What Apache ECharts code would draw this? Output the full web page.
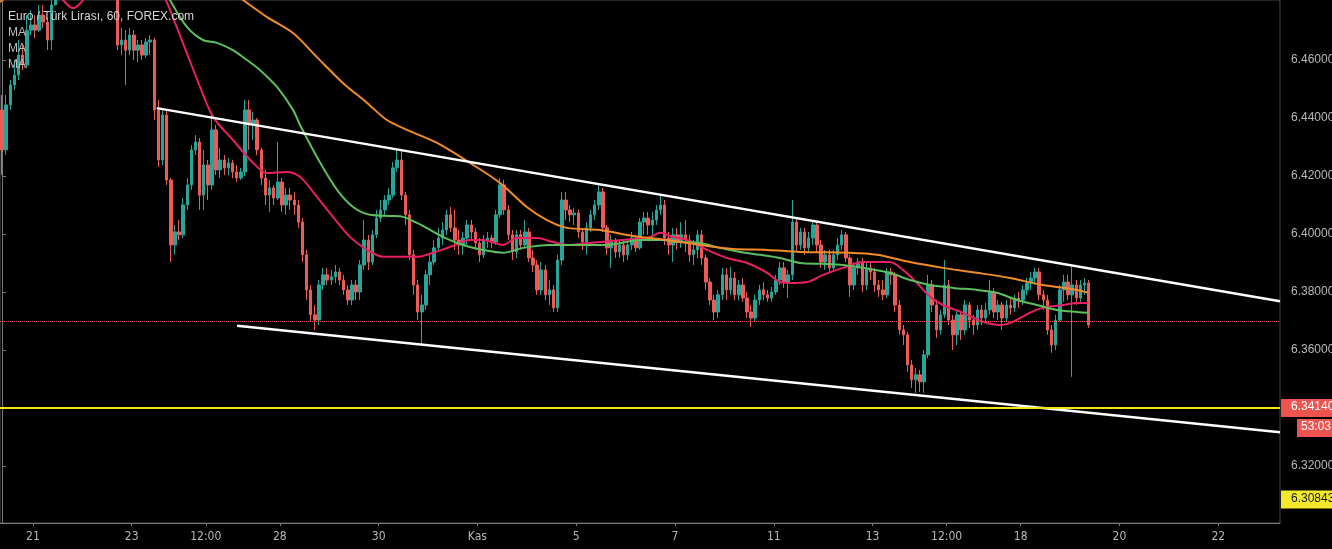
<!DOCTYPE html>
<html><head><meta charset="utf-8">
<script src="https://cdn.jsdelivr.net/npm/echarts@6/dist/echarts.min.js"></script>
<style>html,body{margin:0;padding:0;background:#000;}#c{width:1332px;height:549px;}</style>
</head><body><div id="c"></div>
<script>
// 2-hour candles, index 0 = 18 Eki 08:00 (indices 13-27 lie above the visible range)
const firstOpen = 6.4428;
const closes = [
6.4290,6.4445,6.4514,6.4548,6.4617,6.4583,6.4703,6.4721,6.4703,6.4755,
6.4731,6.4669,6.4790,6.4870,6.4905,6.4885,6.4920,6.4950,6.4930,6.4900,
6.4870,6.4860,6.4890,6.4920,6.4935,6.4910,6.4880,6.4850,6.4652,6.4669,
6.4634,6.4686,6.4634,6.4652,6.4617,6.4662,6.4669,6.4428,6.4255,6.4410,
6.4186,6.3962,6.4007,6.3997,6.4100,6.4169,6.4290,6.4317,6.4134,6.4238,
6.4169,6.4359,6.4221,6.4255,6.4228,6.4245,6.4214,6.4193,6.4214,6.4428,
6.4376,6.4393,6.4290,6.4193,6.4134,6.4159,6.4124,6.4179,6.4100,6.4134,
6.4117,6.4100,6.4041,6.3928,6.3807,6.3721,6.3703,6.3824,6.3859,6.3841,
6.3852,6.3869,6.3841,6.3807,6.3772,6.3824,6.3800,6.3893,6.3979,6.3903,
6.3997,6.4055,6.4083,6.4117,6.4134,6.4228,6.4255,6.4134,6.4066,6.3928,
6.3824,6.3731,6.3755,6.3859,6.3903,6.3952,6.3986,6.4014,6.4066,6.4021,
6.3979,6.3962,6.3986,6.4031,6.4007,6.3969,6.3928,6.3979,6.3986,6.3972,
6.4066,6.4169,6.4083,6.3997,6.3938,6.3997,6.3962,6.4007,6.3917,6.3893,
6.3807,6.3876,6.3790,6.3807,6.3745,6.3910,6.4117,6.4083,6.4066,6.4072,
6.4007,6.3972,6.4021,6.4066,6.4100,6.4145,6.4021,6.3952,6.3979,6.3938,
6.3962,6.3928,6.3962,6.3986,6.3952,6.4041,6.4055,6.4031,6.4048,6.4083,
6.4100,6.3986,6.3962,6.3997,6.3972,6.3997,6.3979,6.3928,6.3945,6.3997,
6.3917,6.3834,6.3772,6.3731,6.3790,6.3859,6.3807,6.3848,6.3790,6.3824,
6.3779,6.3731,6.3710,6.3772,6.3807,6.3790,6.3779,6.3800,6.3841,6.3883,
6.3834,6.3859,6.4041,6.3962,6.4007,6.3952,6.3986,6.4031,6.3962,6.3903,
6.3928,6.3883,6.3928,6.3962,6.3997,6.3917,6.3824,6.3883,6.3903,6.3824,
6.3883,6.3869,6.3824,6.3807,6.3790,6.3869,6.3859,6.3755,6.3669,6.3652,
6.3548,6.3497,6.3514,6.3490,6.3583,6.3824,6.3755,6.3669,6.3721,6.3824,
6.3703,6.3652,6.3721,6.3669,6.3755,6.3703,6.3686,6.3738,6.3710,6.3738,
6.3800,6.3731,6.3755,6.3710,6.3755,6.3745,6.3779,6.3772,6.3807,6.3831,
6.3848,6.3869,6.3790,6.3772,6.3669,6.3617,6.3703,6.3807,6.3834,6.3790,
6.3824,6.3779,6.3824,6.3831,6.3686
];
const highs = [
6.4479,6.4479,6.4531,6.4600,6.4669,6.4652,6.4755,6.4772,6.4755,6.4790,
6.4790,6.4745,6.4841,6.4900,6.4930,6.4925,6.4950,6.4975,6.4970,6.4945,
6.4910,6.4885,6.4910,6.4945,6.4960,6.4950,6.4920,6.4890,6.4870,6.4710,
6.4703,6.4710,6.4703,6.4669,6.4669,6.4676,6.4686,6.4676,6.4462,6.4434,
6.4428,6.4193,6.4031,6.4048,6.4124,6.4193,6.4307,6.4341,6.4331,6.4290,
6.4255,6.4410,6.4376,6.4297,6.4272,6.4262,6.4255,6.4238,6.4228,6.4462,
6.4462,6.4421,6.4400,6.4297,6.4221,6.4186,6.4169,6.4317,6.4193,6.4159,
6.4159,6.4145,6.4117,6.4055,6.3945,6.3824,6.3755,6.3841,6.3883,6.3883,
6.3876,6.3893,6.3883,6.3859,6.3824,6.3841,6.3841,6.3910,6.4048,6.3997,
6.4014,6.4083,6.4117,6.4134,6.4159,6.4248,6.4290,6.4290,6.4145,6.4083,
6.3945,6.3841,6.3790,6.3876,6.3928,6.3979,6.4021,6.4041,6.4083,6.4093,
6.4083,6.4014,6.4007,6.4048,6.4048,6.4021,6.3986,6.3997,6.4007,6.3997,
6.4083,6.4193,6.4186,6.4100,6.4014,6.4014,6.4014,6.4048,6.4021,6.3945,
6.3910,6.3903,6.3893,6.3841,6.3824,6.3928,6.4145,6.4145,6.4100,6.4090,
6.4083,6.4021,6.4041,6.4083,6.4117,6.4169,6.4159,6.4031,6.3997,6.3986,
6.3979,6.3979,6.3972,6.4007,6.3997,6.4055,6.4076,6.4076,6.4076,6.4100,
6.4134,6.4117,6.4007,6.4021,6.4021,6.4041,6.4048,6.3997,6.3979,6.4014,
6.4014,6.3928,6.3848,6.3790,6.3807,6.3883,6.3883,6.3886,6.3869,6.3841,
6.3848,6.3800,6.3755,6.3790,6.3824,6.3834,6.3807,6.3817,6.3859,6.3903,
6.3903,6.3876,6.4117,6.4055,6.4021,6.4021,6.4007,6.4048,6.4041,6.3979,
6.3945,6.3945,6.3945,6.3986,6.4014,6.4007,6.3928,6.3903,6.3917,6.3917,
6.3903,6.3903,6.3883,6.3841,6.3841,6.3883,6.3883,6.3869,6.3772,6.3686,
6.3662,6.3566,6.3538,6.3531,6.3600,6.3859,6.3841,6.3772,6.3738,6.3910,
6.3841,6.3721,6.3738,6.3731,6.3772,6.3766,6.3721,6.3755,6.3755,6.3762,
6.3841,6.3814,6.3772,6.3766,6.3772,6.3779,6.3790,6.3800,6.3824,6.3848,
6.3869,6.3883,6.3883,6.3807,6.3790,6.3686,6.3721,6.3824,6.3859,6.3859,
6.3886,6.3841,6.3841,6.3848,6.3841
];
const lows = [
6.4203,6.4272,6.4428,6.4497,6.4531,6.4565,6.4572,6.4686,6.4676,6.4697,
6.4710,6.4634,6.4634,6.4788,6.4860,6.4870,6.4880,6.4910,6.4915,6.4890,
6.4850,6.4830,6.4845,6.4880,6.4905,6.4895,6.4860,6.4825,6.4634,6.4617,
6.4514,6.4617,6.4600,6.4593,6.4600,6.4607,6.4617,6.4393,6.4231,6.4238,
6.4169,6.3903,6.3928,6.3979,6.3986,6.4083,6.4152,6.4272,6.4083,6.4083,
6.4117,6.4152,6.4203,6.4193,6.4203,6.4203,6.4193,6.4179,6.4186,6.4200,
6.4290,6.4324,6.4272,6.4169,6.4100,6.4076,6.4100,6.4117,6.4076,6.4066,
6.4083,6.4066,6.4021,6.3903,6.3772,6.3697,6.3669,6.3686,6.3807,6.3824,
6.3824,6.3831,6.3824,6.3790,6.3755,6.3755,6.3772,6.3772,6.3876,6.3876,
6.3893,6.3986,6.4041,6.4066,6.4100,6.4124,6.4214,6.4117,6.4031,6.3910,
6.3790,6.3703,6.3617,6.3738,6.3824,6.3893,6.3938,6.3962,6.3997,6.4007,
6.3945,6.3928,6.3928,6.3962,6.3979,6.3945,6.3903,6.3917,6.3952,6.3952,
6.3962,6.4055,6.4066,6.3979,6.3910,6.3917,6.3945,6.3952,6.3903,6.3869,
6.3790,6.3790,6.3772,6.3755,6.3731,6.3731,6.3893,6.4048,6.4041,6.4031,
6.3986,6.3945,6.3928,6.4007,6.4048,6.4083,6.4007,6.3928,6.3883,6.3917,
6.3917,6.3903,6.3910,6.3945,6.3938,6.3945,6.3997,6.3997,6.3979,6.4031,
6.4066,6.3962,6.3928,6.3903,6.3945,6.3952,6.3938,6.3903,6.3893,6.3917,
6.3893,6.3807,6.3755,6.3703,6.3710,6.3772,6.3772,6.3790,6.3772,6.3772,
6.3766,6.3710,6.3679,6.3697,6.3755,6.3772,6.3766,6.3766,6.3790,6.3824,
6.3814,6.3779,6.3841,6.3938,6.3945,6.3928,6.3938,6.3962,6.3938,6.3883,
6.3876,6.3869,6.3869,6.3910,6.3945,6.3903,6.3783,6.3807,6.3859,6.3800,
6.3807,6.3841,6.3800,6.3783,6.3772,6.3779,6.3824,6.3731,6.3652,6.3617,
6.3524,6.3469,6.3452,6.3455,6.3452,6.3572,6.3731,6.3641,6.3652,6.3710,
6.3686,6.3600,6.3617,6.3634,6.3652,6.3676,6.3652,6.3669,6.3686,6.3697,
6.3721,6.3710,6.3703,6.3669,6.3697,6.3721,6.3731,6.3745,6.3755,6.3790,
6.3807,6.3824,6.3772,6.3738,6.3652,6.3590,6.3600,6.3697,6.3766,6.3772,
6.3507,6.3755,6.3766,6.3790,6.3676
];

const slotCount = 311;
const dayTickPositions = [7.5,31.5,49.5,67.5,91.5,115.5,139.5,163.5,187.5,211.5,229.5,247.5,271.5,295.5];
const dayTickLabels = ['21','23','12:00','28','30','Kas','5','7','11','13','12:00','18','20','22'];
const priceTicks = [6.30,6.32,6.34,6.36,6.38,6.40,6.42,6.44,6.46];

const maFast = [[9.2,6.4893],[14.8,6.4807],[17.2,6.4779],[19.7,6.4807],[23.8,6.4893],[31.1,6.4962],[37.2,6.4876],[39.8,6.4807],[41.5,6.4748],[44.9,6.4624],[48.1,6.4507],[51.3,6.4403],[56.1,6.4324],[61.0,6.4245],[64.4,6.4210],[69.2,6.4214],[72.4,6.4197],[76.5,6.4128],[80.4,6.4059],[84.5,6.3990],[88.7,6.3945],[92.6,6.3921],[100.8,6.3921],[104.7,6.3935],[108.8,6.3955],[113.7,6.3979],[116.9,6.3979],[121.7,6.3962],[125.1,6.3986],[130.0,6.3986],[133.9,6.3972],[137.3,6.3962],[142.8,6.3969],[150.9,6.3979],[157.4,6.3990],[159.9,6.4004],[163.0,6.3990],[166.4,6.3979],[171.3,6.3945],[176.1,6.3917],[181.0,6.3900],[185.9,6.3866],[189.0,6.3834],[192.2,6.3831],[195.6,6.3834],[199.5,6.3859],[204.3,6.3883],[209.2,6.3903],[215.7,6.3903],[218.9,6.3876],[222.3,6.3831],[225.5,6.3783],[228.6,6.3755],[233.5,6.3728],[238.3,6.3697],[242.5,6.3686],[245.6,6.3697],[249.7,6.3728],[252.9,6.3745],[257.8,6.3755],[261.2,6.3762],[264,6.3762]];
const maMid = [[38.4,6.4876],[40.8,6.4807],[44.9,6.4714],[48.8,6.4669],[52.2,6.4659],[56.1,6.4634],[59.5,6.4600],[62.7,6.4565],[66.8,6.4507],[70.7,6.4428],[72.4,6.4376],[77.2,6.4248],[81.4,6.4152],[85.3,6.4093],[89.4,6.4066],[94.3,6.4062],[97.4,6.4059],[100.8,6.4038],[104.0,6.4014],[107.1,6.3990],[112.0,6.3962],[116.9,6.3945],[121.7,6.3935],[126.6,6.3952],[133.1,6.3962],[138.7,6.3962],[147.0,6.3962],[155.0,6.3979],[159.9,6.3979],[164.7,6.3972],[169.6,6.3969],[174.4,6.3952],[179.3,6.3938],[184.1,6.3928],[189.0,6.3917],[193.9,6.3900],[198.7,6.3897],[204.3,6.3893],[209.2,6.3883],[215.7,6.3866],[220.6,6.3841],[225.5,6.3824],[231.0,6.3814],[236.9,6.3807],[241.7,6.3797],[246.6,6.3772],[251.4,6.3755],[256.3,6.3738],[261.2,6.3731],[264,6.3728]];
const maSlow = [[-0.5,6.4800],[2.4,6.4828],[30,6.5014],[55.4,6.4834],[58.5,6.4807],[64.4,6.4748],[70.7,6.4693],[76.5,6.4610],[82.8,6.4521],[88.7,6.4452],[93.5,6.4393],[98.4,6.4359],[105.7,6.4314],[113.7,6.4245],[121.0,6.4176],[127.5,6.4093],[132.4,6.4048],[137.3,6.4021],[145.3,6.4014],[153.3,6.3993],[161.6,6.3979],[169.6,6.3962],[177.6,6.3948],[185.9,6.3945],[193.9,6.3938],[206.0,6.3935],[212.6,6.3928],[220.6,6.3903],[228.6,6.3883],[236.9,6.3866],[244.9,6.3848],[252.9,6.3824],[261.2,6.3807],[264,6.3797]];

const upperTrend = [[37.6,6.4434],[310.5,6.3768]];
const lowerTrend = [[57.1,6.3683],[310.5,6.3316]];
const supportLevel = 6.3421;
const lastPriceLevel = 6.3683;
const redTag = {value:6.3400, text:'6.34140', sub:'53:03'};
const yellowTag = {value:6.30843, text:'6.30843'};

const chart = echarts.init(document.getElementById('c'), null, {renderer:'canvas'});
const candleData = closes.map((c,i)=>[i===0?firstOpen:closes[i-1], c, lows[i], highs[i]]);
const axisFont = "'Liberation Sans Narrow','DejaVu Sans Condensed','Liberation Sans',sans-serif";

chart.setOption({
  backgroundColor:'#000',
  animation:false,
  grid:{left:0,right:52,top:0,bottom:26,containLabel:false,outerBoundsMode:'none',show:true,borderColor:'#4a4a4a',borderWidth:1,backgroundColor:'#000'},
  xAxis:[
    {type:'category',data:Array.from({length:slotCount},(_,i)=>String(i)),boundaryGap:true,show:false},
    {type:'value',min:-0.5,max:slotCount-0.5,position:'bottom',
     axisLine:{show:true,lineStyle:{color:'#7a7a7a'}},
     axisTick:{show:true,customValues:dayTickPositions,length:3,lineStyle:{color:'#7a7a7a'}},
     axisLabel:{customValues:dayTickPositions,formatter:v=>{const k=dayTickPositions.indexOf(v);return k>=0?dayTickLabels[k]:'';},color:'#b8b8b8',fontSize:12,margin:8,fontFamily:axisFont},
     splitLine:{show:false}}
  ],
  yAxis:{type:'value',position:'right',min:6.3003,max:6.4807,scale:true,
     axisLine:{show:true,lineStyle:{color:'#7a7a7a'}},
     axisTick:{show:true,customValues:priceTicks,length:4,lineStyle:{color:'#7a7a7a'}},
     axisLabel:{customValues:priceTicks,formatter:v=>v.toFixed(5),color:'#b8b8b8',fontSize:12,margin:11,fontFamily:"'Liberation Sans',sans-serif"},
     splitLine:{show:false}},
  series:[
    {type:'candlestick',xAxisIndex:0,yAxisIndex:0,data:candleData,barWidth:3,clip:true,z:2,
     itemStyle:{color:'#26a69a',color0:'#ec5b55',borderColor:'#26a69a',borderColor0:'#ec5b55',borderWidth:1},
     markLine:{symbol:'none',silent:true,animation:false,label:{show:false},
       data:[{yAxis:supportLevel,lineStyle:{color:'#f2e422',width:2,type:'solid'}},
             {yAxis:lastPriceLevel,lineStyle:{color:'#e5534b',width:1,type:'dotted'}}]}},
    {type:'line',xAxisIndex:1,yAxisIndex:0,data:maFast,smooth:0.3,symbol:'none',clip:true,z:3,lineStyle:{color:'#e91e63',width:2}},
    {type:'line',xAxisIndex:1,yAxisIndex:0,data:maMid,smooth:0.3,symbol:'none',clip:true,z:3,lineStyle:{color:'#5cbf5c',width:2}},
    {type:'line',xAxisIndex:1,yAxisIndex:0,data:maSlow,smooth:0.3,symbol:'none',clip:true,z:3,lineStyle:{color:'#f28c28',width:2}},
    {type:'line',xAxisIndex:1,yAxisIndex:0,data:upperTrend,symbol:'none',clip:true,z:4,lineStyle:{color:'#ffffff',width:2.5}},
    {type:'line',xAxisIndex:1,yAxisIndex:0,data:lowerTrend,symbol:'none',clip:true,z:4,lineStyle:{color:'#ffffff',width:2.5}}
  ]
});

const xRight = chart.convertToPixel({xAxisIndex:1}, slotCount-0.5);
const yRed = chart.convertToPixel({yAxisIndex:0}, redTag.value);
const yYel = chart.convertToPixel({yAxisIndex:0}, yellowTag.value);
const tFont = "12px 'Liberation Sans',sans-serif";
chart.setOption({graphic:[
  {type:'text',left:8,top:11,z:100,style:{text:'Euro / Türk Lirası, 60, FOREX.com',fill:'#d6d6d6',font:tFont}},
  {type:'text',left:8,top:27,z:100,style:{text:'MA',fill:'#bdbdbd',font:tFont}},
  {type:'text',left:8,top:43,z:100,style:{text:'MA',fill:'#bdbdbd',font:tFont}},
  {type:'text',left:8,top:59,z:100,style:{text:'MA',fill:'#bdbdbd',font:tFont}},
  {type:'rect',z:100,shape:{x:xRight+1,y:yRed-9,width:60,height:18},style:{fill:'#ef5350'}},
  {type:'text',z:101,x:xRight+11,y:yRed-7,style:{text:redTag.text,fill:'#ffffff',font:tFont}},
  {type:'rect',z:100,shape:{x:xRight+17,y:yRed+11,width:50,height:18},style:{fill:'#ef5350'}},
  {type:'text',z:101,x:xRight+21,y:yRed+13,style:{text:redTag.sub,fill:'#ffffff',font:tFont}},
  {type:'rect',z:100,shape:{x:xRight+1,y:yYel-9,width:60,height:18},style:{fill:'#f5ea2a'}},
  {type:'text',z:101,x:xRight+11,y:yYel-7,style:{text:yellowTag.text,fill:'#131722',font:tFont}}
]});
</script></body></html>
